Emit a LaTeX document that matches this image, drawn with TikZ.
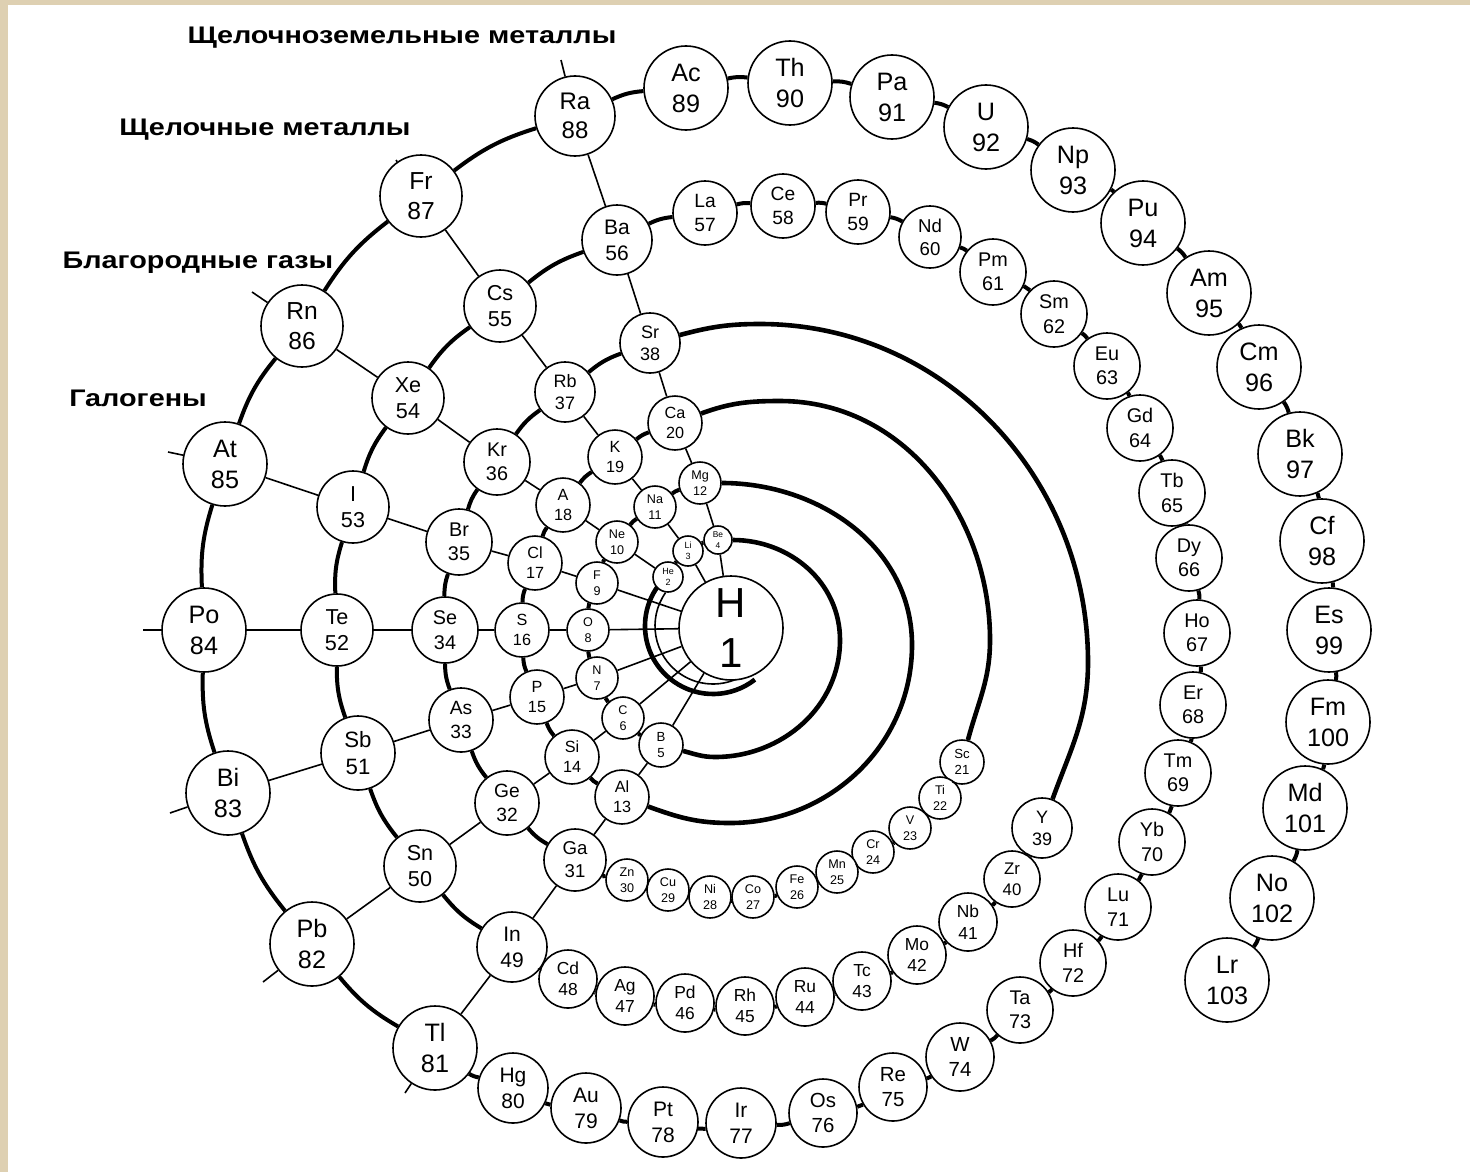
\documentclass[tikz,border=0pt]{standalone}
\usepackage{fontspec}
\setmainfont{Liberation Sans}
\usepackage{graphicx}
\usetikzlibrary{calc}
\definecolor{bge}{RGB}{222,208,178}
\newcommand\elm[6]{%
  \pgfmathsetmacro\efs{0.3*#4}%
  \pgfmathsetmacro\ebs{0.37*#4}%
  \node[elem, minimum size=#4pt, font=\fontsize{\efs pt}{\ebs pt}\selectfont] (#1) at (#2,-#3) {#5\\#6};%
}
\begin{document}
\begin{tikzpicture}[x=0.5pt,y=0.5pt,
  elem/.style={circle,draw,fill=white,inner sep=0pt,line width=0.8pt,align=center},
  chain/.style={line width=2pt},
  grp/.style={line width=0.8pt},
  bigarc/.style={line width=2.3pt},
  lbl/.style={font=\bfseries\fontsize{12}{14}\selectfont}]
\fill[bge] (0,0) rectangle (1470,-1172);
\fill[white] (8,-5) rectangle (1470,-1172);
\useasboundingbox (0,0) rectangle (1470,-1172);

% ring around H
\draw[bigarc] (713,-626) ++(145:68) arc[start angle=145,end angle=308,radius=68];
\draw[grp] (713,-626) ++(145:58) arc[start angle=145,end angle=308,radius=58];

\node[elem, minimum size=52pt, font=\fontsize{21}{25}\selectfont] (H) at (731,-628) {H\\1};
\elm{He}{668}{577}{15}{He}{2}
\elm{Li}{688}{551}{15}{Li}{3}
\elm{Be}{718}{540}{14}{Be}{4}
\elm{B}{661}{745}{22}{B}{5}
\elm{C}{623}{718}{21}{C}{6}
\elm{N}{597}{678}{21}{N}{7}
\elm{O}{588}{630}{21}{O}{8}
\elm{F}{597}{583}{21}{F}{9}
\elm{Ne}{617}{542}{21}{Ne}{10}
\elm{Na}{655}{507}{21}{Na}{11}
\elm{Mg}{700}{483}{21}{Mg}{12}
\elm{Al}{622}{797}{27}{Al}{13}
\elm{Si}{572}{757}{27}{Si}{14}
\elm{P}{537}{697}{27}{P}{15}
\elm{S}{522}{630}{27}{S}{16}
\elm{Cl}{535}{563}{27}{Cl}{17}
\elm{Ar}{563}{505}{27}{A}{18}
\elm{K}{615}{457}{27}{K}{19}
\elm{Ca}{675}{423}{27}{Ca}{20}
\elm{Sc}{962}{762}{22}{Sc}{21}
\elm{Ti}{940}{798}{21}{Ti}{22}
\elm{V}{910}{828}{21}{V}{23}
\elm{Cr}{873}{852}{21}{Cr}{24}
\elm{Mn}{837}{872}{21}{Mn}{25}
\elm{Fe}{797}{887}{21}{Fe}{26}
\elm{Co}{753}{897}{21}{Co}{27}
\elm{Ni}{710}{897}{21}{Ni}{28}
\elm{Cu}{668}{890}{21}{Cu}{29}
\elm{Zn}{627}{880}{21}{Zn}{30}
\elm{Ga}{575}{860}{31}{Ga}{31}
\elm{Ge}{507}{803}{32}{Ge}{32}
\elm{As}{461}{720}{32}{As}{33}
\elm{Se}{445}{630}{33}{Se}{34}
\elm{Br}{459}{542}{33}{Br}{35}
\elm{Kr}{497}{462}{33}{Kr}{36}
\elm{Rb}{565}{392}{30}{Rb}{37}
\elm{Sr}{650}{343}{30}{Sr}{38}
\elm{Y}{1042}{828}{30}{Y}{39}
\elm{Zr}{1012}{879}{28}{Zr}{40}
\elm{Nb}{968}{922}{29}{Nb}{41}
\elm{Mo}{917}{955}{29}{Mo}{42}
\elm{Tc}{862}{981}{29}{Tc}{43}
\elm{Ru}{805}{997}{29}{Ru}{44}
\elm{Rh}{745}{1006}{29}{Rh}{45}
\elm{Pd}{685}{1003}{29}{Pd}{46}
\elm{Ag}{625}{996}{29}{Ag}{47}
\elm{Cd}{568}{979}{29}{Cd}{48}
\elm{In}{512}{947}{35}{In}{49}
\elm{Sn}{420}{866}{36}{Sn}{50}
\elm{Sb}{358}{753}{37}{Sb}{51}
\elm{Te}{337}{630}{36}{Te}{52}
\elm{I}{353}{507}{36}{I}{53}
\elm{Xe}{408}{398}{36}{Xe}{54}
\elm{Cs}{500}{306}{36}{Cs}{55}
\elm{Ba}{617}{240}{35}{Ba}{56}
\elm{La}{705}{213}{32}{La}{57}
\elm{Ce}{783}{206}{32}{Ce}{58}
\elm{Pr}{858}{212}{32}{Pr}{59}
\elm{Nd}{930}{237}{31}{Nd}{60}
\elm{Pm}{993}{272}{33}{Pm}{61}
\elm{Sm}{1054}{314}{33}{Sm}{62}
\elm{Eu}{1107}{366}{33}{Eu}{63}
\elm{Gd}{1140}{428}{33}{Gd}{64}
\elm{Tb}{1172}{493}{33}{Tb}{65}
\elm{Dy}{1189}{558}{33}{Dy}{66}
\elm{Ho}{1197}{633}{33}{Ho}{67}
\elm{Er}{1193}{705}{33}{Er}{68}
\elm{Tm}{1178}{773}{33}{Tm}{69}
\elm{Yb}{1152}{842}{33}{Yb}{70}
\elm{Lu}{1118}{907}{33}{Lu}{71}
\elm{Hf}{1073}{963}{33}{Hf}{72}
\elm{Ta}{1020}{1010}{33}{Ta}{73}
\elm{W}{960}{1057}{34}{W}{74}
\elm{Re}{893}{1087}{34}{Re}{75}
\elm{Os}{823}{1113}{34}{Os}{76}
\elm{Ir}{741}{1123}{35}{Ir}{77}
\elm{Pt}{663}{1122}{35}{Pt}{78}
\elm{Au}{586}{1108}{35}{Au}{79}
\elm{Hg}{513}{1088}{35}{Hg}{80}
\elm{Tl}{435}{1048}{42}{Tl}{81}
\elm{Pb}{312}{944}{42}{Pb}{82}
\elm{Bi}{228}{793}{42}{Bi}{83}
\elm{Po}{204}{630}{42}{Po}{84}
\elm{At}{225}{464}{42}{At}{85}
\elm{Rn}{302}{326}{41}{Rn}{86}
\elm{Fr}{421}{196}{41}{Fr}{87}
\elm{Ra}{575}{116}{40}{Ra}{88}
\elm{Ac}{686}{88}{42}{Ac}{89}
\elm{Th}{790}{83}{42}{Th}{90}
\elm{Pa}{892}{97}{42}{Pa}{91}
\elm{U}{986}{127}{42}{U}{92}
\elm{Np}{1073}{170}{42}{Np}{93}
\elm{Pu}{1143}{223}{42}{Pu}{94}
\elm{Am}{1209}{293}{42}{Am}{95}
\elm{Cm}{1259}{367}{42}{Cm}{96}
\elm{Bk}{1300}{454}{42}{Bk}{97}
\elm{Cf}{1322}{541}{42}{Cf}{98}
\elm{Es}{1329}{630}{42}{Es}{99}
\elm{Fm}{1328}{722}{42}{Fm}{100}
\elm{Md}{1305}{808}{42}{Md}{101}
\elm{No}{1272}{898}{42}{No}{102}
\elm{Lr}{1227}{980}{42}{Lr}{103}

% chain links (thick)
\foreach \a/\b in {He/Li,Li/Be,B/C,C/N,N/O,O/F,F/Ne,Ne/Na,Na/Mg,Al/Si,Si/P,P/S,S/Cl,Cl/Ar,Ar/K,K/Ca,
  Sc/Ti,Ti/V,V/Cr,Cr/Mn,Mn/Fe,Fe/Co,Co/Ni,Ni/Cu,Cu/Zn,Zn/Ga,Ga/Ge,Ge/As,As/Se,Se/Br,Br/Kr,Kr/Rb,Rb/Sr,
  Y/Zr,Zr/Nb,Nb/Mo,Mo/Tc,Tc/Ru,Ru/Rh,Rh/Pd,Pd/Ag,Ag/Cd,Cd/In,In/Sn,Sn/Sb,Sb/Te,Te/I,I/Xe,Xe/Cs,Cs/Ba,
  Ba/La,La/Ce,Ce/Pr,Pr/Nd,Nd/Pm,Pm/Sm,Sm/Eu,Eu/Gd,Gd/Tb,Tb/Dy,Dy/Ho,Ho/Er,Er/Tm,Tm/Yb,Yb/Lu,Lu/Hf,
  Hf/Ta,Ta/W,W/Re,Re/Os,Os/Ir,Ir/Pt,Pt/Au,Au/Hg,Hg/Tl,Tl/Pb,Pb/Bi,Bi/Po,Po/At,At/Rn,Rn/Fr,Fr/Ra,Ra/Ac,
  Ac/Th,Th/Pa,Pa/U,U/Np,Np/Pu,Pu/Am,Am/Cm,Cm/Bk,Bk/Cf,Cf/Es,Es/Fm,Fm/Md,Md/No,No/Lr}
  \draw[chain] (\a) to[bend left=10] (\b);

% group lines (thin)
\foreach \a/\b in {Fr/Cs,Cs/Rb,Rb/K,K/Na,Na/Li,Li/H,
  Ra/Ba,Ba/Sr,Sr/Ca,Ca/Mg,Mg/Be,Be/H,
  Tl/In,In/Ga,Ga/Al,Al/B,B/H,
  Pb/Sn,Sn/Ge,Ge/Si,Si/C,C/H,
  Bi/Sb,Sb/As,As/P,P/N,N/H,
  Po/Te,Te/Se,Se/S,S/O,O/H,
  At/I,I/Br,Br/Cl,Cl/F,F/H,
  Rn/Xe,Xe/Kr,Kr/Ar,Ar/Ne,Ne/He}
  \draw[grp] (\a) -- (\b);

% long arcs
\draw[bigarc] (Be) to[out=0,in=90] (840,-640) to[out=-90,in=0] (715,-757) to[out=180,in=-15] (B);
\draw[bigarc] (Mg) to[out=0,in=90] (912,-645) to[out=-90,in=0] (730,-823) to[out=180,in=-20] (Al);
\draw[bigarc] (Ca) to[out=20,in=180] (780,-401) to[out=0,in=90] (990,-640) to[out=-90,in=75] (Sc);
\draw[bigarc] (Sr) to[out=15,in=180] (760,-324) to[out=0,in=90] (1088,-662) to[out=-90,in=70] (Y);

% outer ticks
\coordinate (tRa) at (561,-60);
\coordinate (tFr) at (396,-160);
\coordinate (tRn) at (252,-292);
\coordinate (tAt) at (168,-452);
\coordinate (tPo) at (143,-630);
\coordinate (tBi) at (170,-813);
\coordinate (tPb) at (263,-982);
\coordinate (tTl) at (405,-1093);
\foreach \n in {Ra,Fr,Rn,At,Po,Bi,Pb,Tl} \draw[grp] (\n) -- (t\n);

% labels
\node[lbl] (l1) at (402,-38) {\scalebox{1.2}[1]{Щелочноземельные металлы}};
\node[lbl] (l2) at (265,-130) {\scalebox{1.2}[1]{Щелочные металлы}};
\node[lbl] (l3) at (198,-263) {\scalebox{1.2}[1]{Благородные газы}};
\node[lbl] (l4) at (138,-398) {\scalebox{1.2}[1]{Галогены}};
\end{tikzpicture}
\end{document}
